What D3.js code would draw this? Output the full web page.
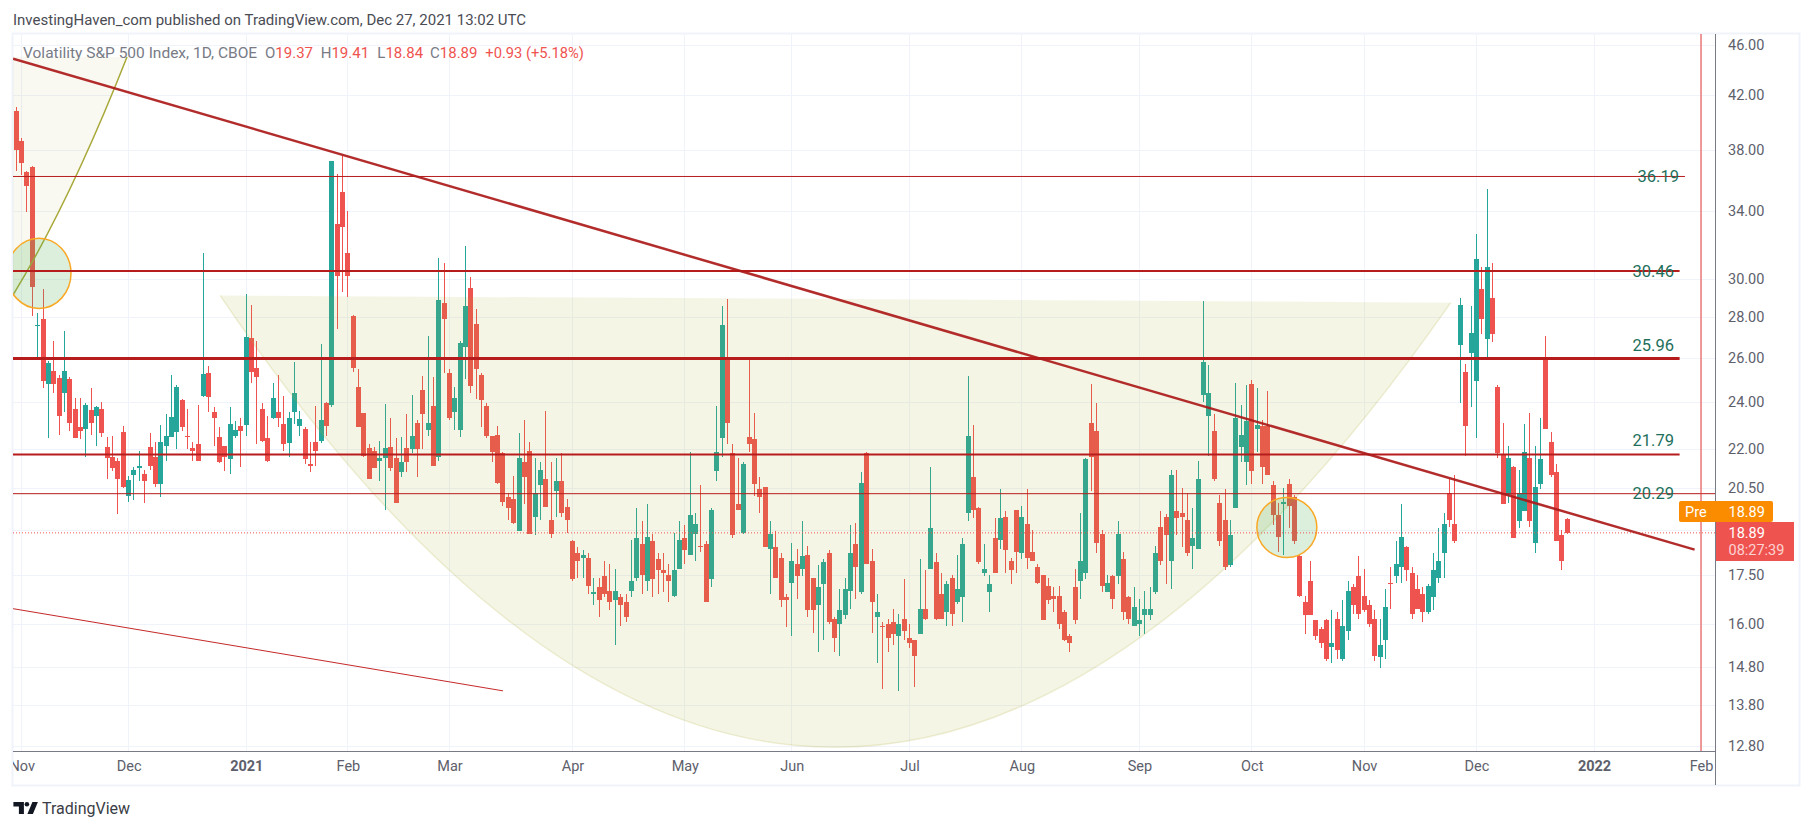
<!DOCTYPE html>
<html>
<head>
<meta charset="utf-8">
<script src="https://cdn.jsdelivr.net/npm/d3@7"></script>
<style>
  html, body { margin: 0; background: #fff; }
  svg { display: block; font-family: Roboto, sans-serif; }
</style>
</head>
<body>
<svg width="1813" height="830"></svg>
<script>
// daily candles, Nov 2020 to Dec 27 2021
const opens = [
  40.8,38.6,36.5,36.85,27.55,27.9,24.8,25.4,25.05,24.4,25.0,23.7,22.9,22.85,23.65,23.4,23.7,22.1,21.7,21.55,22.7,20.2,21.0,21.25,21.05,22.1,21.7,20.65,22.15,22.5,22.7,24.05,22.55,22.05,22.2,24.25,25.3,
  23.55,22.5,22.15,21.6,22.55,22.95,23.0,26.95,25.5,23.7,22.45,23.3,23.55,23.05,22.25,23.55,22.95,22.85,21.4,22.3,22.35,23.95,23.85,33.2,35.2,31.5,28.05,24.65,23.5,22.05,21.95,21.55,21.65,22.1,21.65,21.1,
  22.05,22.0,23.1,24.5,22.8,23.8,21.7,28.75,25.3,23.55,22.8,26.5,29.55,27.65,25.2,23.8,22.55,22.6,21.85,20.15,20.1,18.95,21.5,21.95,19.45,20.6,20.85,19.35,20.4,20.75,19.8,18.6,18.2,
  18.05,18.05,16.9,17.1,
  17.45,17.0,16.7,16.8,16.65,17.0,17.4,18.5,17.3,18.6,18.0,17.65,17.5,16.85,17.7,18.7,18.15,18.85,18.45,18.5,17.35,21.15,22.45,26.05,21.85,19.9,18.9,22.5,22.4,20.45,20.55,18.35,18.4,18.05,16.8,17.25,
  17.85,17.7,18.15,17.4,16.55,17.2,18.2,16.15,16.0,16.25,17.0,18.5,16.95,21.85,17.95,16.2,15.95,16.0,16.05,15.65,16.15,15.6,15.55,15.7,16.45,17.7,17.9,16.9,16.35,17.4,16.65,16.8,19.6,20.9,19.75,17.55,16.95,
  18.7,18.65,19.45,17.95,19.7,18.2,19.2,18.25,17.75,17.5,17.15,16.85,16.85,16.35,15.65,17.1,17.3,17.55,23.1,22.75,18.85,16.95,17.45,17.45,18.0,16.8,15.95,16.0,16.25,16.25,16.95,19.1,19.45,17.95,19.65,19.6,
  19.35,18.45,18.35,24.3,23.4,22.75,19.95,19.35,17.8,19.75,22.1,21.5,24.8,22.85,22.95,22.95,20.6,19.5,19.9,20.65,20.15,18.1,16.65,17.3,16.1,15.85,16.1,15.35,16.15,15.0,15.8,17.1,17.45,16.85,16.55,16.15,15.05,
  15.55,17.25,17.45,17.75,18.4,17.55,17.05,16.9,16.35,16.8,17.4,18.2,20.3,19.2,26.6,25.35,26.25,24.9,29.5,26.9,29.0,24.65,21.8,20.25,21.3,19.3,19.65,21.65,18.55,20.65,25.9,22.3,21.1,18.8,19.37
];
const highs = [
  41.05,38.8,36.55,36.9,28.2,29.45,25.85,26.8,25.2,27.3,25.1,24.15,24.15,23.95,24.6,23.8,24.0,22.5,22.55,21.65,22.95,20.95,21.3,21.95,21.2,22.65,22.3,23.0,23.45,25.2,24.75,24.1,23.7,22.3,23.85,31.5,25.6,
  23.75,22.9,22.15,23.75,23.15,23.3,29.2,28.65,26.8,23.95,23.4,24.85,25.2,24.25,23.55,25.8,23.6,22.9,22.3,23.8,26.65,24.0,37.25,36.35,37.55,34.0,28.1,25.45,23.5,22.2,22.1,22.35,23.9,23.3,22.45,22.5,
  23.45,24.3,23.2,25.15,27.05,25.1,31.2,30.9,25.45,24.65,26.8,31.9,30.1,28.4,25.3,23.95,22.55,22.95,21.9,20.3,20.95,22.65,23.2,22.3,21.65,21.5,23.6,21.5,21.65,21.85,20.1,18.65,18.4,
  18.3,18.2,17.4,17.4,
  17.95,17.85,17.7,16.9,16.9,18.65,19.75,19.3,19.9,18.85,18.2,18.2,17.85,18.9,19.3,19.15,21.9,19.6,20.6,18.6,19.75,23.8,28.6,28.95,22.2,21.65,21.5,26.0,23.5,20.9,20.55,19.3,18.95,18.2,16.9,18.55,
  18.35,19.3,18.45,17.4,17.8,18.0,18.3,16.2,17.05,17.4,19.15,19.25,21.1,21.9,18.35,16.9,16.05,16.15,16.45,16.3,17.35,16.0,15.55,18.0,17.65,21.3,18.2,17.55,17.3,17.5,18.15,18.7,25.15,23.0,19.8,18.5,17.5,
  19.4,20.45,19.65,18.05,19.7,19.85,20.45,19.0,17.85,17.5,17.4,17.1,17.15,16.4,15.7,17.7,19.6,21.65,24.8,23.95,19.0,17.5,17.5,19.3,18.25,16.85,17.1,16.75,17.0,17.1,18.45,19.65,19.55,21.2,21.2,20.5,
  20.3,19.75,21.55,28.85,25.65,23.45,20.25,20.45,19.35,24.85,23.85,24.75,24.95,24.6,23.2,24.45,20.75,19.95,20.5,20.85,20.25,18.15,16.85,17.95,16.1,15.9,16.15,16.4,16.35,16.7,17.3,17.2,18.1,17.7,16.7,16.4,16.15,
  17.05,17.75,18.6,19.9,18.45,17.75,17.5,17.1,17.2,18.2,19.05,19.6,20.85,21.0,29.0,25.7,28.6,32.6,30.7,35.4,30.9,24.75,23.1,22.15,21.35,21.2,23.05,23.5,22.15,23.3,27.05,22.7,21.4,19.0,19.41
];
const lows = [
  36.55,36.3,33.9,28.05,26.05,24.6,22.45,24.4,22.6,23.55,22.75,22.45,22.4,21.7,22.6,22.15,22.5,20.85,21.15,19.55,20.5,20.0,20.05,20.75,19.95,21.2,20.55,20.15,21.55,22.5,22.0,22.75,22.0,21.55,21.55,24.2,23.55,
  22.15,21.45,21.15,21.05,22.45,21.3,22.55,24.85,22.2,22.3,21.5,23.25,22.9,21.95,21.7,23.05,22.55,21.4,21.1,21.35,22.25,22.55,23.75,27.4,29.3,29.05,25.35,22.9,21.7,20.85,21.25,20.75,19.7,21.15,19.95,20.9,
  21.1,21.85,20.9,22.0,22.55,21.35,21.55,25.3,23.2,22.8,22.5,25.0,24.4,24.1,22.9,22.45,21.5,20.65,19.85,19.35,19.2,18.95,19.9,18.85,18.8,19.35,19.8,18.7,19.45,19.45,18.9,17.3,17.4,
  17.4,16.9,16.55,16.2,
  16.8,16.4,15.4,15.95,16.05,16.8,17.3,16.9,17.0,16.8,16.9,16.95,16.65,16.8,17.7,17.85,18.15,17.95,18.25,16.65,17.1,20.75,21.7,22.2,18.7,19.7,18.85,21.9,20.2,19.6,18.4,16.9,17.4,16.5,15.9,15.65,
  16.75,17.45,16.2,15.75,15.2,15.55,16.0,15.2,15.1,16.15,16.45,16.75,16.9,17.85,15.75,14.9,14.2,15.2,15.4,14.15,15.55,15.3,14.25,15.7,16.1,17.7,16.1,16.15,15.95,15.95,16.6,16.05,19.3,19.4,17.85,17.45,16.35,
  17.55,18.35,17.55,17.2,17.55,18.0,17.7,17.95,17.2,16.1,16.6,16.35,15.85,15.5,15.2,16.0,16.75,17.35,20.4,18.2,16.95,16.95,16.45,17.2,16.1,16.0,15.95,15.65,15.7,16.1,16.9,17.8,17.2,17.05,18.8,18.4,
  18.1,17.7,18.35,24.0,21.75,20.75,18.45,17.65,17.75,19.75,21.5,20.6,20.65,21.9,20.65,21.0,19.15,18.25,18.15,19.05,18.5,16.8,15.7,16.25,15.55,15.3,14.95,14.9,15.0,14.95,15.55,16.3,16.15,16.35,15.9,14.95,14.75,
  15.0,16.45,17.25,17.25,17.3,16.15,16.45,16.05,16.3,16.4,17.25,17.4,19.1,18.55,23.95,21.75,23.75,22.45,27.15,25.9,26.75,21.65,19.9,19.95,18.7,19.05,19.65,19.1,18.2,20.45,22.85,20.9,18.6,17.65,18.84
];
const closes = [
  38.0,37.1,35.55,29.6,27.6,24.9,25.75,24.8,23.4,25.4,23.1,22.45,22.75,23.85,23.1,23.75,22.65,21.65,21.25,20.85,20.55,20.8,21.2,21.35,20.75,21.35,20.65,22.3,22.55,23.35,24.65,22.9,22.5,21.95,21.55,25.25,24.2,
  23.3,21.5,21.7,23.05,22.8,22.75,27.0,25.35,25.1,22.35,21.55,24.15,23.3,22.2,23.3,24.4,23.25,21.6,21.35,21.95,23.2,22.95,37.2,30.2,33.0,30.2,25.5,22.9,21.75,20.85,21.25,21.65,22.05,21.25,19.95,21.5,
  21.5,22.55,22.0,23.45,23.1,21.35,28.9,27.9,23.3,24.15,26.7,28.6,24.7,25.45,24.05,22.55,21.9,20.7,20.0,19.75,19.25,21.65,20.9,18.85,20.3,21.2,19.8,18.85,20.75,19.6,19.35,17.35,17.93,
  18.15,17.15,16.95,16.7,
  16.9,16.65,17.0,16.55,16.2,17.3,18.7,17.5,18.75,17.35,17.65,17.55,17.3,17.65,18.65,18.3,19.5,19.2,18.4,16.65,19.7,21.9,27.6,23.1,18.8,19.7,21.4,22.2,20.65,20.15,18.4,18.85,17.4,16.7,16.7,17.95,
  17.45,18.1,16.4,16.4,17.1,17.9,16.05,15.6,16.4,17.05,18.2,17.75,20.7,17.85,16.65,16.35,15.9,15.6,15.7,16.0,15.8,15.45,15.1,16.45,16.15,19.05,16.15,16.15,17.2,16.3,17.05,18.5,22.55,19.7,17.9,17.7,17.2,
  17.55,19.4,18.3,17.65,18.25,19.45,18.05,17.95,17.25,16.1,16.7,16.75,16.0,15.55,15.45,16.1,17.95,21.6,21.7,18.55,17.15,17.25,16.75,18.85,16.35,16.15,16.5,16.1,16.45,16.45,18.2,17.95,18.8,21.0,19.4,19.45,
  18.2,18.7,20.85,25.8,24.4,20.85,18.6,17.75,18.8,23.3,22.6,23.15,21.15,23.0,21.3,21.0,19.5,18.75,20.0,19.85,18.6,16.85,16.25,16.25,15.65,15.45,15.0,15.45,15.25,15.95,17.0,16.55,16.3,16.4,16.0,15.1,15.4,
  16.5,17.2,17.85,18.75,17.65,16.3,16.45,16.35,17.15,17.65,17.95,19.2,19.35,18.6,28.65,22.95,27.2,31.15,27.9,30.7,27.15,21.85,19.9,21.65,18.7,20.3,21.9,19.3,20.55,21.6,22.85,21.0,18.6,17.96,18.89
];

const priceTicks = [46, 42, 38, 34, 30, 28, 26, 24, 22, 20.5, 19, 17.5, 16, 14.8, 13.8, 12.8];
const monthBars = [1, 21, 43, 62, 81, 104, 125, 145, 167, 188, 210, 231, 252, 273, 295, 315];
const monthLabels = ["Nov", "Dec", "2021", "Feb", "Mar", "Apr", "May", "Jun", "Jul", "Aug", "Sep", "Oct", "Nov", "Dec", "2022", "Feb"];

// levels drawn on the chart: value, line width, where the label sits
const levelValues = [36.19, 30.46, 25.96, 21.79, 20.29];
const levelWidths = [1, 2, 3, 2, 1];
const levelEndBars = [312, 311, 311, 311, 318];
const levelLabelValues = [36.19, 30.46, 26.6, 22.35, 20.29];

// drawing anchors as [bar, price]
const trendLine = [[-0.6, 44.87], [313.8, 18.32]];
const lowerLine = [[-0.6, 16.45], [91, 14.16]];
const bigArc = [[38.1, 29.13], [152, 5.64], [268.2, 28.75]];
const topArc = [[-100.3, 45.17], [-39.8, 10.08], [20.7, 45.0]];
const circleBoxes = [[-1.74, 10.23, 32.33, 28.45], [231.95, 243.17, 20.15, 18.06]];
const markerBar = 315;
const lastPrice = 18.89;

const plotLeft = 13, plotRight = 1715, plotTop = 34, plotBottom = 751;

const xScale = d3.scaleLinear().domain([0, 290]).range([16.3, 1567.3]);
const yScale = d3.scaleLog().domain([12.8, 46]).range([746.2, 45]);

const UP = "#26a69a", DOWN = "#ef5350", LEVEL = "#b71c1c", AXIS_TEXT = "#5d606b";

const svg = d3.select("svg");

svg.append("defs").append("clipPath").attr("id", "plot")
  .append("rect")
  .attr("x", plotLeft).attr("y", plotTop)
  .attr("width", plotRight - plotLeft).attr("height", plotBottom - plotTop);
svg.select("defs").append("clipPath").attr("id", "timeClip")
  .append("rect")
  .attr("x", plotLeft).attr("y", plotBottom)
  .attr("width", plotRight - plotLeft).attr("height", 35);

// frame
svg.append("rect")
  .attr("x", 12.5).attr("y", 33.5).attr("width", 1787).attr("height", 752)
  .attr("fill", "none").attr("stroke", "#f0f3fa").attr("stroke-width", 2);

svg.append("text")
  .attr("x", 13).attr("y", 25)
  .attr("font-size", 15).attr("fill", "#4a4c54")
  .text("InvestingHaven_com published on TradingView.com, Dec 27, 2021 13:02 UTC");

// grid
const grid = svg.append("g").attr("clip-path", "url(#plot)");
grid.selectAll(".gy").data(priceTicks).enter().append("line")
  .attr("x1", plotLeft).attr("x2", plotRight)
  .attr("y1", d => Math.round(yScale(d)) + .5).attr("y2", d => Math.round(yScale(d)) + .5)
  .attr("stroke", "#f0f3fa");
grid.selectAll(".gx").data(monthBars).enter().append("line")
  .attr("y1", plotTop).attr("y2", plotBottom)
  .attr("x1", d => Math.floor(xScale(d)) + .5).attr("x2", d => Math.floor(xScale(d)) + .5)
  .attr("stroke", "#f0f3fa");

// candles
const candles = svg.append("g").attr("clip-path", "url(#plot)")
  .selectAll("g").data(d3.range(opens.length)).enter().append("g")
  .attr("fill", i => closes[i] >= opens[i] ? UP : DOWN);
candles.append("rect")
  .attr("x", i => Math.floor(xScale(i)))
  .attr("width", 1)
  .attr("y", i => Math.round(yScale(highs[i])))
  .attr("height", i => Math.max(1, Math.round(yScale(lows[i])) - Math.round(yScale(highs[i]))));
candles.append("rect")
  .attr("x", i => Math.floor(xScale(i)) - 2)
  .attr("width", 5)
  .attr("y", i => Math.round(yScale(Math.max(opens[i], closes[i]))))
  .attr("height", i => Math.max(1, Math.round(yScale(Math.min(opens[i], closes[i]))) - Math.round(yScale(Math.max(opens[i], closes[i])))));

// drawings sit above the candles
const drawings = svg.append("g").attr("clip-path", "url(#plot)");
const px = p => [xScale(p[0]), yScale(p[1])];

function arcPath(a) {
  const p = d3.path();
  const [p0, p1, p2] = a.map(px);
  p.moveTo(p0[0], p0[1]);
  p.quadraticCurveTo(p1[0], p1[1], p2[0], p2[1]);
  return p.toString();
}

drawings.append("path").attr("d", arcPath(topArc) + "Z")
  .attr("fill", "rgba(170,170,50,.07)").attr("stroke", "none");
drawings.append("path").attr("d", arcPath(topArc))
  .attr("fill", "none").attr("stroke", "#a8a83a").attr("stroke-width", 1.5);

drawings.append("path").attr("d", arcPath(bigArc) + "Z")
  .attr("fill", "rgba(170,170,50,.12)").attr("stroke", "none");
drawings.append("path").attr("d", arcPath(bigArc))
  .attr("fill", "none").attr("stroke", "rgba(170,170,50,.18)").attr("stroke-width", 1.5);

drawings.selectAll(".circle").data(circleBoxes).enter().append("ellipse")
  .attr("cx", d => (xScale(d[0]) + xScale(d[1])) / 2)
  .attr("cy", d => (yScale(d[2]) + yScale(d[3])) / 2)
  .attr("rx", d => (xScale(d[1]) - xScale(d[0])) / 2)
  .attr("ry", d => (yScale(d[3]) - yScale(d[2])) / 2)
  .attr("fill", "rgba(76,175,80,.2)")
  .attr("stroke", "#f9a825").attr("stroke-width", 1.5);

// last price dots
drawings.append("line")
  .attr("x1", plotLeft).attr("x2", plotRight)
  .attr("y1", yScale(lastPrice)).attr("y2", yScale(lastPrice))
  .attr("stroke", DOWN).attr("stroke-dasharray", "1 2");

drawings.selectAll(".level").data(levelValues).enter().append("line")
  .attr("x1", plotLeft)
  .attr("x2", (d, i) => xScale(levelEndBars[i]))
  .attr("y1", d => yScale(d)).attr("y2", d => yScale(d))
  .attr("stroke", LEVEL)
  .attr("stroke-width", (d, i) => levelWidths[i]);

drawings.append("line")
  .attr("x1", px(trendLine[0])[0]).attr("y1", px(trendLine[0])[1])
  .attr("x2", px(trendLine[1])[0]).attr("y2", px(trendLine[1])[1])
  .attr("stroke", "#ab1a1a").attr("stroke-opacity", .92).attr("stroke-width", 2.5);
drawings.append("line")
  .attr("x1", px(lowerLine[0])[0]).attr("y1", px(lowerLine[0])[1])
  .attr("x2", px(lowerLine[1])[0]).attr("y2", px(lowerLine[1])[1])
  .attr("stroke", "#c62828").attr("stroke-width", 1);

drawings.append("line")
  .attr("x1", xScale(markerBar)).attr("x2", xScale(markerBar))
  .attr("y1", plotTop).attr("y2", plotBottom)
  .attr("stroke", "#e53935");

drawings.selectAll(".levelLabel").data(levelValues).enter().append("text")
  .attr("x", (d, i) => i == 0 ? 1679 : 1674)
  .attr("y", (d, i) => yScale(levelLabelValues[i]))
  .attr("dy", "0.35em")
  .attr("text-anchor", "end")
  .attr("font-size", 16.5).attr("fill", "#1e6f5c")
  .text(d => d.toFixed(2));

// axes
const yAxis = d3.axisRight(yScale).tickValues(priceTicks).tickSize(0).tickPadding(13)
  .tickFormat(d3.format(".2f"));
const gy = svg.append("g").attr("transform", `translate(${plotRight},0)`).call(yAxis);
gy.select(".domain").remove();
gy.selectAll("text").attr("font-size", 14.5).attr("font-family", "Roboto, sans-serif").attr("fill", AXIS_TEXT);

const xAxis = d3.axisBottom(xScale).tickValues(monthBars).tickSize(0).tickPadding(10)
  .tickFormat((d, i) => monthLabels[i]);
const gx = svg.append("g").attr("clip-path", "url(#timeClip)")
  .append("g").attr("transform", `translate(0,${plotBottom})`).call(xAxis);
gx.select(".domain").remove();
gx.selectAll("text")
  .attr("font-size", 14.5).attr("font-family", "Roboto, sans-serif").attr("fill", AXIS_TEXT)
  .attr("font-weight", (d, i) => /^\d/.test(monthLabels[i]) ? 700 : 400);

svg.append("line")
  .attr("x1", plotRight + .5).attr("x2", plotRight + .5).attr("y1", plotTop).attr("y2", 785)
  .attr("stroke", "#787b86");
svg.append("line")
  .attr("x1", plotLeft).attr("x2", plotRight).attr("y1", plotBottom + .5).attr("y2", plotBottom + .5)
  .attr("stroke", "#787b86");

// legend
const legendGray = "#787b86";
svg.append("text").attr("x", 23).attr("y", 58).attr("font-size", 15.5).attr("fill", legendGray)
  .text("Volatility S&P 500 Index, 1D, CBOE");
const legendKeys = ["O", "H", "L", "C"];
const legendVals = ["19.37", "19.41", "18.84", "18.89"];
const legendStarts = [265, 320.7, 377.3, 430];
legendKeys.forEach((k, i) => {
  const t = svg.append("text").attr("x", legendStarts[i]).attr("y", 58).attr("font-size", 15).attr("fill", legendGray);
  t.append("tspan").text(k);
  t.append("tspan").attr("fill", DOWN).text(legendVals[i]);
});
svg.append("text").attr("x", 485.3).attr("y", 58).attr("font-size", 14.7).attr("fill", DOWN)
  .text("+0.93 (+5.18%)");

// price tags
svg.append("rect").attr("x", 1679).attr("y", 501).attr("width", 94).attr("height", 21).attr("rx", 2).attr("fill", "#fb8c00");
svg.append("text").attr("x", 1685).attr("y", 516.5).attr("font-size", 14.5).attr("fill", "#fff").text("Pre");
svg.append("text").attr("x", 1728.5).attr("y", 516.5).attr("font-size", 14.5).attr("fill", "#fff").text(lastPrice.toFixed(2));
svg.append("rect").attr("x", 1716).attr("y", 522).attr("width", 78).attr("height", 39).attr("fill", DOWN);
svg.append("text").attr("x", 1728.5).attr("y", 538).attr("font-size", 14.5).attr("fill", "#fff").text(lastPrice.toFixed(2));
svg.append("text").attr("x", 1728.5).attr("y", 555).attr("font-size", 14.5).attr("fill", "rgba(255,255,255,.75)").text("08:27:39");

// logo
const logo = svg.append("g").attr("transform", "translate(13.4,802)").attr("fill", "#131722");
logo.append("path").attr("d", "M0 0h10.5v12h-5v-7.5H0z");
logo.append("circle").attr("cx", 13.5).attr("cy", 2.3).attr("r", 2.3);
logo.append("path").attr("d", "M19 0h5.5L19.5 12h-5.5z");
svg.append("text").attr("x", 42).attr("y", 814).attr("font-size", 16).attr("fill", "#3a3d45").text("TradingView");
</script>
</body>
</html>
